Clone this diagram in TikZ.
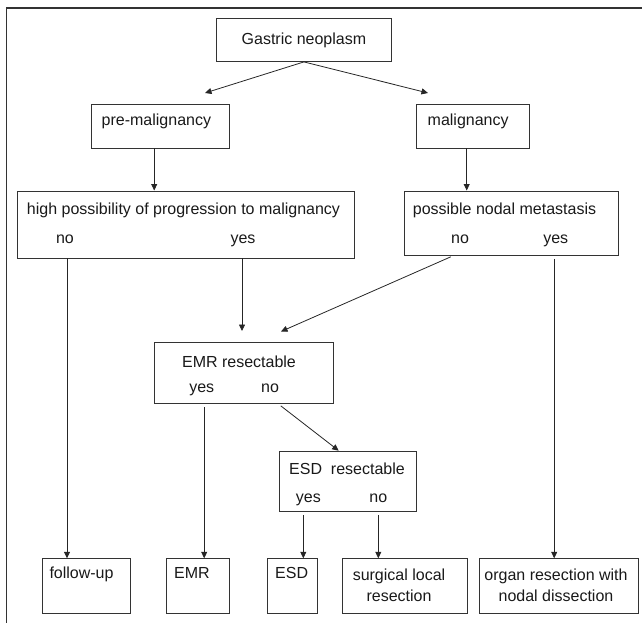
\documentclass[tikz,border=0pt]{standalone}
\usepackage{fontspec}
\setmainfont{Liberation Sans}
\usetikzlibrary{arrows.meta}

\begin{document}
\begin{tikzpicture}[x=1pt, y=-1pt,
    % Node styles
    box/.style={draw=black!80, line width=0.9pt, anchor=north west, inner sep=0pt,
        font=\fontsize{16}{21}\selectfont, text=black!90},
    txt/.style={inner sep=0pt, font=\fontsize{16}{21}\selectfont, text=black!90},
    % Arrow styles
    arr/.style={-{Triangle[length=6.5pt, width=6pt]}, line width=0.8pt, draw=black!85},
    branch/.style={arr, shorten <=3.5pt},
]
    \useasboundingbox (0,0) rectangle (642,623);
    % Frame
    \draw[line width=1.2pt, black!80] (6.5,623) -- (6.5,8) -- (642,8);

    % Boxes
    \node[box, minimum width=175pt, minimum height=43pt] (gastric) at (216,18) {Gastric neoplasm};
    \node[box, minimum width=137.5pt, minimum height=43.5pt] (premal) at (91,104) {};
    \node[box, minimum width=112.5pt, minimum height=43.5pt] (mal) at (416,104) {};
    \node[box, minimum width=337pt, minimum height=67pt] (high) at (16.5,190.5) {};
    \node[box, minimum width=214pt, minimum height=64pt] (poss) at (403.5,190.5) {};
    \node[box, minimum width=179pt, minimum height=60.5pt] (emr) at (154,342.3) {};
    \node[box, minimum width=137.5pt, minimum height=60.3pt] (esd) at (278.5,450.7) {};
    \node[box, minimum width=88.8pt, minimum height=54.4pt] (follow) at (41.5,558.3) {};
    \node[box, minimum width=62.3pt, minimum height=54.4pt] (emrout) at (166.4,558.3) {};
    \node[box, minimum width=50.6pt, minimum height=54.4pt] (esdout) at (266.7,558.3) {};
    \node[box, minimum width=125.5pt, minimum height=54.4pt] (surg) at (341.5,558.3) {};
    \node[box, minimum width=158.8pt, minimum height=54.4pt] (organ) at (478.7,558.3) {};

    % Box texts
    \node[txt, anchor=base west] (premaltxt) at (101.5,125) {pre-malignancy};
    \node[txt, anchor=base west] (maltxt) at (427.5,125) {malignancy};
    \node[txt, anchor=base] (hightxt) at (183.5,214) {high possibility of progression to malignancy};
    \node[txt, anchor=base] (hino) at (65,243) {no};
    \node[txt, anchor=base] (hiyes) at (243,243) {yes};
    \node[txt, anchor=base] (posstxt) at (504.5,214) {possible nodal metastasis};
    \node[txt, anchor=base] (posno) at (460,243) {no};
    \node[txt, anchor=base] (posyes) at (555.7,243) {yes};
    \node[txt, anchor=base] (emrtxt) at (239,367) {EMR resectable};
    \node[txt, anchor=base] (emryes) at (201.7,392.5) {yes};
    \node[txt, anchor=base] (emrno) at (270,392.5) {no};
    \node[txt, anchor=base] (esdtxt) at (347,474) {ESD\ \ resectable};
    \node[txt, anchor=base] (esdyes) at (308.3,502) {yes};
    \node[txt, anchor=base] (esdno) at (378.3,502) {no};
    \node[txt, anchor=base west] (followtxt) at (49.3,578) {follow-up};
    \node[txt, anchor=base west] (emrouttxt) at (174,578) {EMR};
    \node[txt, anchor=base west] (esdouttxt) at (275,578) {ESD};
    \node[txt, align=center] (surgtxt) at (399,585.5) {surgical local\\resection};
    \node[txt, align=center] (organtxt) at (556,585.5) {organ resection with\\nodal dissection};

    % Free arrow ends
    \coordinate (pretip) at (205,93);
    \coordinate (maltip) at (428,93);
    \coordinate (emrtipa) at (242,331);
    \coordinate (emrtipb) at (281,331.5);

    % Arrows
    \draw[arr] (gastric.south) -- (pretip);
    \draw[arr] (gastric.south) -- (maltip);
    \draw[arr] ([xshift=-6pt]premal.south) -- ([xshift=-6pt]premal.south |- high.north);
    \draw[arr] ([xshift=-6pt]mal.south) -- ([xshift=-6pt]mal.south |- poss.north);
    \draw[arr] ([xshift=2pt]hino |- high.south) -- ([xshift=2pt]hino |- follow.north);
    \draw[arr] (emrtipa |- high.south) -- (emrtipa);
    \draw[branch] ([xshift=-6pt]posno |- poss.south) -- (emrtipb);
    \draw[branch] ([xshift=-1.5pt]posyes |- poss.south) -- ([xshift=-1.5pt]posyes |- organ.north);
    \draw[branch] ([xshift=2.5pt]emryes |- emr.south) -- ([xshift=2.5pt]emryes |- emrout.north);
    \draw[branch] ([xshift=8pt]emrno |- emr.south) -- ([xshift=-9pt]esd.north);
    \draw[branch] ([xshift=-5pt]esdyes |- esd.south) -- ([xshift=-5pt]esdyes |- esdout.north);
    \draw[branch] (esdno |- esd.south) -- (esdno |- surg.north);
\end{tikzpicture}
\end{document}
